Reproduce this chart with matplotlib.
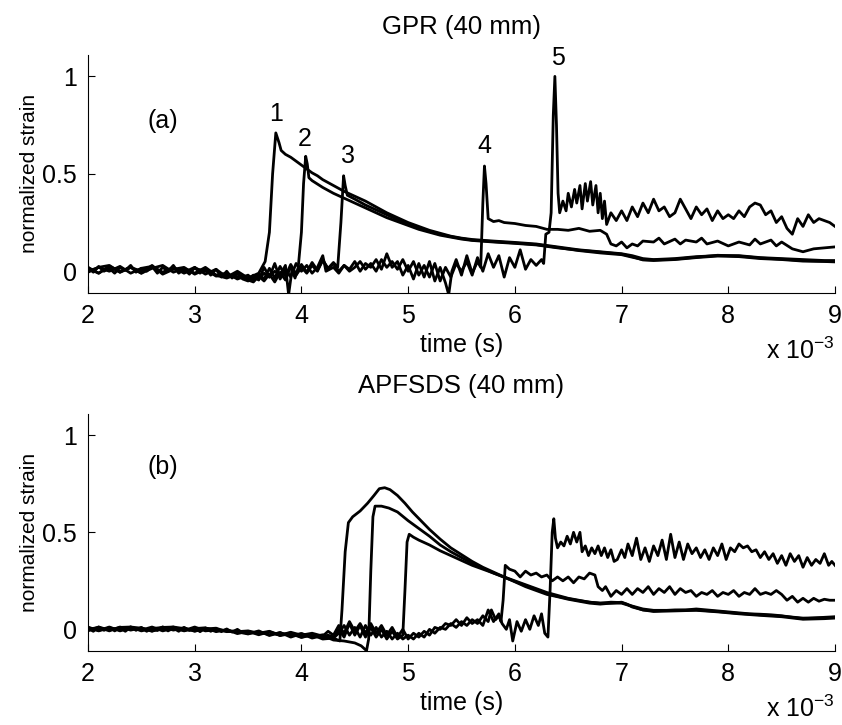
import matplotlib
matplotlib.use("Agg")
import matplotlib.pyplot as plt

plt.rcParams["font.family"] = ["Liberation Sans", "DejaVu Sans"]
plt.rcParams["mathtext.fontset"] = "custom"
plt.rcParams["mathtext.rm"] = "Liberation Sans"

# ---- (a) GPR (40 mm): five gauge traces, time in units of 1e-3 s ----
gpr1_t = [2.0, 2.1, 2.2, 2.3, 2.4, 2.5, 2.6, 2.7, 2.8, 2.9, 3.0, 3.1, 3.2, 3.3, 3.4, 3.5, 3.6, 3.66,
          3.70, 3.73, 3.76, 3.79, 3.81, 3.85, 3.9, 3.95, 4.0, 4.05, 4.1, 4.15, 4.2, 4.3, 4.4, 4.5,
          4.6, 4.7, 4.8, 4.9, 5.0, 5.1, 5.2, 5.3, 5.4, 5.5, 5.6, 5.8, 6.0, 6.2, 6.4, 6.6, 6.8,
          7.0, 7.1, 7.2, 7.3, 7.5, 7.7, 7.9, 8.1, 8.3, 8.5, 8.7, 8.9, 9.0]
gpr1_v = [0.02, -0.01, 0.025, -0.005, 0.02, 0.0, 0.025, -0.01, 0.015, -0.005, 0.02, -0.015, 0.01, -0.03, 0.0, -0.035, -0.01, 0.05,
          0.2, 0.5, 0.71, 0.66, 0.62, 0.60, 0.585, 0.565, 0.545, 0.525, 0.505, 0.49, 0.47, 0.44, 0.41, 0.385,
          0.36, 0.33, 0.30, 0.275, 0.25, 0.23, 0.21, 0.195, 0.18, 0.17, 0.163, 0.155, 0.148, 0.14, 0.125, 0.11, 0.1,
          0.09, 0.08, 0.065, 0.06, 0.065, 0.075, 0.08, 0.08, 0.07, 0.065, 0.06, 0.055, 0.055]

gpr2_t = [2.0, 2.1, 2.2, 2.3, 2.4, 2.5, 2.6, 2.7, 2.8, 2.9, 3.0, 3.1, 3.2, 3.3, 3.4, 3.5, 3.55, 3.6,
          3.65, 3.7, 3.75, 3.8, 3.85, 3.9, 3.94, 3.97, 4.0, 4.02, 4.04, 4.055, 4.07, 4.1, 4.2, 4.3,
          4.4, 4.5, 4.6, 4.7, 4.8, 4.9, 5.0, 5.1, 5.2, 5.3, 5.4, 5.5, 5.6, 5.8, 6.0, 6.2, 6.4, 6.6,
          6.8, 7.0, 7.1, 7.2, 7.3, 7.5, 7.7, 7.9, 8.1, 8.3, 8.5, 8.7, 8.9, 9.0]
gpr2_v = [-0.005, 0.02, 0.0, 0.025, -0.01, 0.015, 0.025, -0.005, 0.02, -0.01, 0.015, 0.0, -0.02, -0.035, -0.015, -0.045, -0.055, -0.025,
          -0.05, -0.015, -0.055, -0.005, -0.045, 0.025, -0.035, 0.02, 0.2, 0.45, 0.59, 0.55, 0.48, 0.465, 0.43, 0.40,
          0.375, 0.35, 0.325, 0.30, 0.275, 0.255, 0.235, 0.215, 0.2, 0.185, 0.175, 0.165, 0.158, 0.15, 0.143, 0.135, 0.12, 0.108,
          0.098, 0.088, 0.075, 0.058, 0.055, 0.06, 0.07, 0.078, 0.075, 0.065, 0.06, 0.052, 0.05, 0.048]

gpr3_t = [2.0, 2.1, 2.2, 2.3, 2.4, 2.5, 2.6, 2.7, 2.8, 2.9, 3.0, 3.1, 3.2, 3.3, 3.4, 3.5, 3.55, 3.6,
          3.65, 3.7, 3.75, 3.8, 3.85, 3.9, 3.95, 4.0, 4.05, 4.1, 4.15, 4.2, 4.25, 4.3, 4.34, 4.37,
          4.395, 4.41, 4.43, 4.5, 4.6, 4.7, 4.8, 4.9, 5.0, 5.1, 5.2, 5.3, 5.4, 5.5, 5.6, 5.8, 6.0,
          6.2, 6.4, 6.6, 6.8, 7.0, 7.1, 7.2, 7.3, 7.5, 7.7, 7.9, 8.1, 8.3, 8.5, 8.7, 8.9, 9.0]
gpr3_v = [0.015, -0.01, 0.025, 0.0, 0.02, -0.01, 0.015, 0.03, -0.005, 0.015, -0.01, 0.02, -0.02, -0.01, -0.04, -0.02, -0.045, -0.015,
          -0.04, 0.015, -0.035, 0.025, -0.025, 0.035, -0.015, 0.035, -0.005, 0.045, 0.005, 0.055, 0.015, 0.045, 0.02, 0.25,
          0.49, 0.44, 0.39, 0.37, 0.34, 0.315, 0.29, 0.265, 0.245, 0.225, 0.205, 0.19, 0.178, 0.168, 0.16, 0.152, 0.145,
          0.137, 0.122, 0.106, 0.094, 0.085, 0.072, 0.06, 0.058, 0.062, 0.072, 0.082, 0.078, 0.068, 0.062, 0.055, 0.052, 0.05]

gpr4_t = [2.0, 2.1, 2.2, 2.3, 2.4, 2.5, 2.6, 2.7, 2.8, 2.9, 3.0, 3.1, 3.2, 3.3, 3.4,
          3.5, 3.55, 3.6, 3.65, 3.7, 3.75, 3.8, 3.85, 3.88, 3.91, 3.95, 4.0, 4.05, 4.1, 4.15, 4.2,
          4.25, 4.3, 4.35, 4.4, 4.45, 4.5, 4.55, 4.6, 4.65, 4.7, 4.75, 4.8, 4.85, 4.9, 4.95, 5.0,
          5.05, 5.1, 5.15, 5.2, 5.25, 5.3, 5.35, 5.38, 5.41, 5.45, 5.5, 5.55, 5.6, 5.65, 5.68,
          5.70, 5.715, 5.73, 5.75, 5.8, 5.85, 5.9, 6.0, 6.1, 6.2, 6.3, 6.4, 6.5, 6.6, 6.7, 6.8,
          6.86, 6.9, 6.95, 7.0, 7.05, 7.1, 7.15, 7.2, 7.3, 7.35, 7.4, 7.5, 7.55, 7.6, 7.7, 7.75,
          7.8, 7.9, 8.0, 8.1, 8.2, 8.25, 8.3, 8.4, 8.45, 8.5, 8.6, 8.7, 8.8, 8.9, 9.0]
gpr4_v = [0.0, 0.02, 0.03, -0.005, 0.02, -0.01, 0.03, -0.015, 0.01, 0.02, -0.015, 0.01, -0.025, -0.02, -0.03,
          -0.04, -0.02, -0.04, -0.01, -0.03, 0.0, -0.02, 0.03, -0.12, 0.0, -0.02, 0.02, -0.01, 0.03, 0.0, 0.06,
          0.01, 0.04, 0.0, 0.03, 0.01, 0.05, 0.0, 0.04, 0.02, 0.06, 0.01, 0.09, 0.02, 0.05, -0.02, 0.03,
          -0.04, 0.04, -0.03, 0.05, -0.05, 0.02, -0.06, -0.12, 0.0, 0.06, -0.02, 0.08, -0.01, 0.05, 0.02,
          0.35, 0.54, 0.45, 0.27, 0.255, 0.26, 0.25, 0.245, 0.235, 0.23, 0.215, 0.215, 0.21, 0.22, 0.205, 0.21,
          0.19, 0.14, 0.13, 0.15, 0.12, 0.14, 0.13, 0.155, 0.15, 0.17, 0.14, 0.165, 0.14, 0.16, 0.15, 0.17,
          0.14, 0.155, 0.13, 0.15, 0.135, 0.165, 0.14, 0.16, 0.13, 0.15, 0.115, 0.1, 0.115, 0.12, 0.125]

gpr5_t = [2.0, 2.05, 2.1, 2.15, 2.2, 2.25, 2.3, 2.35, 2.4, 2.45, 2.5, 2.55, 2.6, 2.65, 2.7,
          2.75, 2.8, 2.85, 2.9, 2.95, 3.0, 3.05, 3.1, 3.15, 3.2, 3.25, 3.3, 3.35, 3.4, 3.45,
          3.5, 3.55, 3.6, 3.65, 3.7, 3.75, 3.8, 3.85, 3.9, 3.95, 4.0, 4.05, 4.1, 4.15, 4.2, 4.23,
          4.3, 4.35, 4.4, 4.45, 4.5, 4.55, 4.6, 4.65, 4.7, 4.75, 4.8, 4.85, 4.9, 4.95, 5.0, 5.05,
          5.1, 5.15, 5.2, 5.25, 5.3, 5.35, 5.4, 5.45, 5.5, 5.55, 5.6, 5.65, 5.7, 5.75, 5.8, 5.85,
          5.9, 5.95, 6.0, 6.05, 6.1, 6.15, 6.2, 6.25, 6.27, 6.29, 6.32, 6.34, 6.36, 6.375, 6.39,
          6.405, 6.42, 6.45, 6.48, 6.5, 6.53, 6.56, 6.58, 6.61, 6.63, 6.66, 6.68, 6.71, 6.73, 6.76,
          6.78, 6.8, 6.82, 6.84, 6.86, 6.9, 6.95, 7.0, 7.05, 7.1, 7.15, 7.2, 7.25, 7.3, 7.35, 7.4,
          7.45, 7.5, 7.55, 7.6, 7.65, 7.7, 7.75, 7.8, 7.85, 7.9, 7.95, 8.0, 8.05, 8.1, 8.15, 8.2,
          8.25, 8.3, 8.35, 8.4, 8.45, 8.5, 8.55, 8.6, 8.65, 8.7, 8.75, 8.8, 8.85, 8.9, 8.95, 9.0]
gpr5_v = [0.02, -0.005, 0.025, 0.0, 0.015, -0.01, 0.02, 0.005, 0.03, -0.005, 0.015, 0.0, 0.025, -0.01, 0.02,
          0.0, 0.03, -0.01, 0.01, -0.015, 0.02, -0.01, 0.015, -0.02, 0.01, -0.03, 0.0, -0.035, -0.01, -0.04,
          -0.05, -0.03, -0.045, 0.02, -0.03, 0.04, -0.04, 0.01, -0.03, 0.04, 0.0, 0.03, -0.01, 0.02, 0.08, 0.0,
          0.02, -0.01, 0.03, 0.0, 0.02, 0.05, 0.01, 0.04, 0.0, 0.06, 0.02, 0.05, 0.01, 0.06, 0.0, 0.05,
          -0.02, 0.03, -0.03, 0.04, -0.05, 0.02, -0.03, 0.04, 0.0, 0.05, -0.02, 0.07, 0.0, 0.09, 0.02, 0.08,
          -0.03, 0.07, 0.02, 0.11, 0.01, 0.06, 0.03, 0.06, 0.04, 0.19, 0.2, 0.3, 0.8, 1.0, 0.75,
          0.4, 0.30, 0.36, 0.31, 0.40, 0.33, 0.42, 0.35, 0.44, 0.32, 0.45, 0.36, 0.46, 0.34, 0.44,
          0.30, 0.40, 0.27, 0.36, 0.24, 0.30, 0.26, 0.31, 0.26, 0.33, 0.28, 0.35, 0.30, 0.37, 0.31, 0.33,
          0.28, 0.30, 0.37, 0.32, 0.27, 0.33, 0.29, 0.32, 0.26, 0.31, 0.27, 0.29, 0.27, 0.31, 0.28, 0.33,
          0.35, 0.34, 0.29, 0.31, 0.25, 0.28, 0.22, 0.19, 0.27, 0.23, 0.29, 0.25, 0.27, 0.26, 0.25, 0.23]

# ---- (b) APFSDS (40 mm) ----
apf1_t = [2.0, 2.1, 2.2, 2.3, 2.4, 2.5, 2.6, 2.7, 2.8, 2.9, 3.0, 3.1, 3.2, 3.3, 3.4,
          3.5, 3.6, 3.7, 3.8, 3.9, 4.0, 4.1, 4.2, 4.3, 4.36, 4.38, 4.41, 4.44, 4.48, 4.55, 4.62,
          4.68, 4.73, 4.78, 4.83, 4.9, 4.97, 5.04, 5.12, 5.2, 5.3, 5.4, 5.5, 5.6, 5.7, 5.8, 5.9,
          6.0, 6.1, 6.2, 6.3, 6.4, 6.5, 6.6, 6.7, 6.8, 6.9, 7.0, 7.05, 7.1, 7.2, 7.3, 7.4, 7.5,
          7.6, 7.7, 7.8, 7.9, 8.0, 8.1, 8.2, 8.3, 8.4, 8.5, 8.6, 8.7, 8.8, 8.9, 9.0]
apf1_v = [0.0, 0.01, -0.008, 0.012, -0.004, 0.008, -0.01, 0.012, -0.004, 0.008, -0.01, 0.006, -0.004, -0.01, -0.012,
          -0.008, -0.02, -0.015, -0.03, -0.018, -0.04, -0.028, -0.05, -0.045, -0.06, 0.1, 0.4, 0.55, 0.58, 0.61, 0.65,
          0.69, 0.725, 0.73, 0.72, 0.69, 0.65, 0.605, 0.56, 0.515, 0.465, 0.42, 0.385, 0.35, 0.32, 0.295, 0.27,
          0.245, 0.22, 0.2, 0.18, 0.168, 0.155, 0.145, 0.135, 0.13, 0.135, 0.14, 0.13, 0.115, 0.1, 0.095, 0.097, 0.1,
          0.1, 0.105, 0.1, 0.095, 0.09, 0.085, 0.08, 0.078, 0.075, 0.07, 0.062, 0.055, 0.058, 0.062, 0.065]

apf2_t = [2.0, 2.1, 2.2, 2.3, 2.4, 2.5, 2.6, 2.7, 2.8, 2.9, 3.0, 3.1, 3.2, 3.3, 3.4,
          3.5, 3.6, 3.7, 3.8, 3.9, 4.0, 4.1, 4.2, 4.3, 4.4, 4.5, 4.56, 4.61, 4.63, 4.65, 4.67,
          4.69, 4.75, 4.82, 4.9, 5.0, 5.1, 5.2, 5.3, 5.4, 5.5, 5.6, 5.7, 5.8, 5.9, 6.0, 6.1,
          6.2, 6.3, 6.4, 6.5, 6.6, 6.7, 6.8, 6.9, 7.0, 7.1, 7.2, 7.3, 7.5, 7.7, 7.9, 8.1, 8.3,
          8.5, 8.7, 8.9, 9.0]
apf2_v = [0.008, -0.006, 0.012, -0.008, 0.008, -0.004, 0.012, -0.008, 0.006, -0.006, 0.012, -0.008, -0.002, -0.006, -0.012,
          -0.024, -0.008, -0.032, -0.016, -0.04, -0.022, -0.045, -0.032, -0.055, -0.06, -0.07, -0.085, -0.11, -0.05, 0.3, 0.58,
          0.635, 0.635, 0.625, 0.605, 0.56, 0.52, 0.48, 0.435, 0.40, 0.37, 0.34, 0.315, 0.29, 0.268, 0.247, 0.226,
          0.206, 0.185, 0.17, 0.158, 0.148, 0.14, 0.135, 0.14, 0.138, 0.12, 0.105, 0.098, 0.098, 0.1, 0.092, 0.082, 0.075,
          0.068, 0.058, 0.06, 0.062]

apf3_t = [2.0, 2.1, 2.2, 2.3, 2.4, 2.5, 2.6, 2.7, 2.8, 2.9, 3.0, 3.1, 3.2, 3.3, 3.4,
          3.5, 3.6, 3.7, 3.8, 3.9, 4.0, 4.1, 4.2, 4.25, 4.3, 4.35, 4.4, 4.45, 4.5, 4.55, 4.6,
          4.65, 4.7, 4.75, 4.8, 4.85, 4.9, 4.95, 4.97, 4.99, 5.01, 5.05, 5.1, 5.2, 5.3, 5.4, 5.5,
          5.6, 5.7, 5.8, 5.9, 6.0, 6.1, 6.2, 6.3, 6.4, 6.5, 6.6, 6.7, 6.8, 6.9, 7.0, 7.1, 7.2,
          7.3, 7.5, 7.7, 7.9, 8.1, 8.3, 8.5, 8.7, 8.9, 9.0]
apf3_v = [-0.008, 0.012, -0.004, 0.01, 0.012, -0.008, 0.004, 0.01, 0.012, -0.008, 0.004, 0.008, -0.012, -0.002, -0.022,
          -0.01, -0.028, -0.012, -0.032, -0.022, -0.042, -0.028, -0.042, -0.03, -0.04, 0.0, -0.04, 0.03, -0.03, 0.02, -0.04,
          0.01, -0.04, 0.0, -0.05, -0.01, -0.05, -0.03, 0.2, 0.45, 0.49, 0.475, 0.46, 0.435, 0.405, 0.38, 0.355,
          0.33, 0.31, 0.29, 0.27, 0.25, 0.23, 0.21, 0.19, 0.175, 0.16, 0.15, 0.14, 0.135, 0.135, 0.135, 0.118, 0.1,
          0.092, 0.095, 0.098, 0.09, 0.08, 0.072, 0.065, 0.052, 0.055, 0.058]

apf4_t = [2.0, 2.1, 2.2, 2.3, 2.4, 2.5, 2.6, 2.7, 2.8, 2.9, 3.0, 3.1, 3.2, 3.3, 3.4,
          3.5, 3.6, 3.7, 3.8, 3.9, 4.0, 4.1, 4.2, 4.3, 4.35, 4.4, 4.45, 4.5, 4.55, 4.6, 4.65,
          4.7, 4.75, 4.8, 4.85, 4.9, 4.95, 5.0, 5.05, 5.1, 5.15, 5.2, 5.25, 5.3, 5.35, 5.4, 5.45,
          5.5, 5.55, 5.6, 5.65, 5.7, 5.75, 5.78, 5.82, 5.85, 5.87, 5.89, 5.91, 5.95, 6.0, 6.05,
          6.1, 6.15, 6.2, 6.25, 6.3, 6.35, 6.4, 6.45, 6.5, 6.55, 6.6, 6.65, 6.7, 6.75, 6.78, 6.82,
          6.85, 6.9, 6.95, 7.0, 7.05, 7.1, 7.15, 7.2, 7.25, 7.3, 7.35, 7.4, 7.45, 7.5, 7.55, 7.6,
          7.65, 7.7, 7.75, 7.8, 7.85, 7.9, 7.95, 8.0, 8.05, 8.1, 8.15, 8.2, 8.25, 8.3, 8.35, 8.4,
          8.45, 8.5, 8.55, 8.6, 8.65, 8.7, 8.75, 8.8, 8.85, 8.9, 8.95, 9.0]
apf4_v = [0.012, -0.008, 0.008, -0.004, 0.012, 0.006, -0.008, 0.002, 0.012, 0.004, -0.008, 0.002, 0.006, -0.012, -0.008,
          -0.022, -0.012, -0.028, -0.018, -0.032, -0.022, -0.038, -0.028, -0.045, -0.02, 0.02, -0.03, 0.01, -0.04, 0.02, -0.03,
          0.01, -0.04, -0.01, -0.05, -0.02, -0.05, -0.03, -0.05, -0.02, -0.04, 0.0, -0.02, 0.01, 0.0, 0.03, 0.01,
          0.04, 0.02, 0.05, 0.03, 0.07, 0.04, 0.1, 0.05, 0.07, 0.04, 0.15, 0.33, 0.31, 0.3, 0.27,
          0.3, 0.28, 0.29, 0.27, 0.28, 0.25, 0.27, 0.25, 0.27, 0.24, 0.27, 0.26, 0.29, 0.28, 0.22, 0.2,
          0.22, 0.17, 0.2, 0.18, 0.21, 0.18, 0.21, 0.19, 0.22, 0.18, 0.21, 0.19, 0.22, 0.18, 0.21, 0.19,
          0.2, 0.17, 0.19, 0.18, 0.2, 0.17, 0.19, 0.18, 0.2, 0.17, 0.19, 0.18, 0.21, 0.18, 0.19, 0.18,
          0.2, 0.18, 0.15, 0.17, 0.14, 0.16, 0.14, 0.16, 0.145, 0.155, 0.15, 0.15]

apf5_t = [2.0, 2.05, 2.1, 2.15, 2.2, 2.25, 2.3, 2.35, 2.4, 2.45, 2.5, 2.55, 2.6, 2.65, 2.7,
          2.75, 2.8, 2.85, 2.9, 2.95, 3.0, 3.05, 3.1, 3.15, 3.2, 3.25, 3.3, 3.35, 3.4, 3.45,
          3.5, 3.6, 3.7, 3.8, 3.9, 4.0, 4.1, 4.2, 4.25, 4.3, 4.35, 4.4, 4.45, 4.5, 4.55, 4.6,
          4.65, 4.7, 4.75, 4.8, 4.85, 4.9, 4.95, 5.0, 5.05, 5.1, 5.15, 5.2, 5.25, 5.3, 5.35, 5.4,
          5.45, 5.5, 5.55, 5.6, 5.65, 5.7, 5.75, 5.8, 5.85, 5.88, 5.92, 5.95, 5.98, 6.02, 6.06,
          6.1, 6.14, 6.18, 6.22, 6.25, 6.28, 6.31, 6.33, 6.35, 6.365, 6.38, 6.4, 6.43, 6.46, 6.49,
          6.52, 6.55, 6.58, 6.61, 6.63, 6.66, 6.69, 6.72, 6.75, 6.78, 6.81, 6.84, 6.87, 6.9, 6.93,
          6.96, 7.0, 7.03, 7.06, 7.1, 7.14, 7.18, 7.22, 7.26, 7.3, 7.34, 7.38, 7.42, 7.46, 7.5,
          7.54, 7.58, 7.62, 7.66, 7.7, 7.74, 7.78, 7.82, 7.86, 7.9, 7.94, 7.98, 8.02, 8.06, 8.1,
          8.14, 8.18, 8.22, 8.26, 8.3, 8.34, 8.38, 8.42, 8.46, 8.5, 8.54, 8.58, 8.62, 8.66, 8.7,
          8.74, 8.78, 8.82, 8.86, 8.9, 8.94, 8.97, 9.0]
apf5_v = [0.005, -0.01, 0.012, -0.005, 0.01, -0.008, 0.008, -0.01, 0.012, -0.005, 0.01, -0.01, 0.008, -0.006, 0.012,
          -0.008, 0.006, -0.01, 0.01, -0.006, 0.008, -0.012, 0.006, -0.01, 0.004, -0.012, 0.002, -0.014, 0.0, -0.018,
          -0.015, -0.02, -0.01, -0.03, -0.015, -0.03, -0.02, -0.035, -0.01, -0.03, 0.02, -0.02, 0.04, -0.01, 0.03, -0.02,
          0.03, -0.02, 0.02, -0.03, 0.01, -0.04, 0.0, -0.05, -0.02, -0.04, -0.01, -0.03, 0.01, 0.0, 0.03, 0.02,
          0.05, 0.02, 0.06, 0.03, 0.05, 0.02, 0.1, 0.04, 0.08, 0.03, 0.0, 0.05, -0.06, 0.04, -0.01,
          0.05, 0.0, 0.07, 0.02, 0.08, -0.02, -0.04, 0.2, 0.5, 0.57, 0.47, 0.42, 0.45, 0.43, 0.48,
          0.44, 0.5, 0.45, 0.5, 0.4, 0.43, 0.38, 0.42, 0.39, 0.43, 0.38, 0.42, 0.37, 0.41, 0.35,
          0.36, 0.41, 0.37, 0.44, 0.38, 0.47, 0.36, 0.42, 0.35, 0.43, 0.38, 0.46, 0.36, 0.49, 0.37,
          0.45, 0.36, 0.44, 0.39, 0.42, 0.37, 0.41, 0.36, 0.42, 0.38, 0.44, 0.36, 0.42, 0.40, 0.44,
          0.42, 0.43, 0.40, 0.41, 0.37, 0.40, 0.36, 0.39, 0.34, 0.38, 0.33, 0.39, 0.35, 0.38, 0.32,
          0.37, 0.33, 0.36, 0.34, 0.39, 0.33, 0.35, 0.33]

gpr_traces = [(gpr1_t, gpr1_v), (gpr2_t, gpr2_v), (gpr3_t, gpr3_v), (gpr4_t, gpr4_v), (gpr5_t, gpr5_v)]
apf_traces = [(apf1_t, apf1_v), (apf2_t, apf2_v), (apf3_t, apf3_v), (apf4_t, apf4_v), (apf5_t, apf5_v)]

# peak labels for (a)
peak_labels = ["1", "2", "3", "4", "5"]
peak_t = [3.76, 4.03, 4.44, 5.71, 6.405]
peak_y = [0.806, 0.677, 0.59, 0.642, 1.093]

TICK_FS = 18
XLABEL_FS = 18
YLABEL_FS = 15
TITLE_FS = 18.5


def style_axes(ax, title, tag, tag_y):
    ax.set_xlim(2, 9)
    ax.set_ylim(-0.11, 1.11)
    ax.set_xticks(range(2, 10))
    ax.set_yticks([0, 0.5, 1])
    ax.set_yticklabels(["0", "0.5", "1"])
    for side in ("top", "right"):
        ax.spines[side].set_visible(False)
    for side in ("left", "bottom"):
        ax.spines[side].set_linewidth(0.8)
    ax.tick_params(direction="in", length=5, width=0.8, labelsize=TICK_FS)
    ax.tick_params(axis="x", pad=8)
    ax.tick_params(axis="y", pad=8)
    ax.text(0.5, 1.118, title, transform=ax.transAxes, ha="center", va="center",
            fontsize=TITLE_FS)
    ax.text(0.5, -0.219, "time (s)", transform=ax.transAxes, ha="center", va="center",
            fontsize=XLABEL_FS)
    ax.text(1.0, -0.245, r"x 10$^{-3}$", transform=ax.transAxes, ha="right", va="center",
            fontsize=XLABEL_FS)
    ax.text(-0.078, 0.5, "normalized strain", transform=ax.transAxes, rotation=90,
            ha="center", va="center", fontsize=YLABEL_FS)
    ax.text(2.70, tag_y, tag, ha="center", va="center", fontsize=TICK_FS)


fig = plt.figure(figsize=(8.42, 7.25), dpi=100)
ax_a = fig.add_axes([0.1045, 0.5963, 0.8872, 0.3279])
ax_b = fig.add_axes([0.1045, 0.1025, 0.8872, 0.3265])

for t, v in gpr_traces:
    ax_a.plot(t, v, color="black", lw=2.0)
for t, v in apf_traces:
    ax_b.plot(t, v, color="black", lw=2.0)

for lab, x, y in zip(peak_labels, peak_t, peak_y):
    ax_a.text(x, y, lab, ha="center", va="center", fontsize=TICK_FS)

style_axes(ax_a, "GPR (40 mm)", "(a)", 0.77)
style_axes(ax_b, "APFSDS (40 mm)", "(b)", 0.836)

fig.savefig("out.png", dpi=100, facecolor="white")
